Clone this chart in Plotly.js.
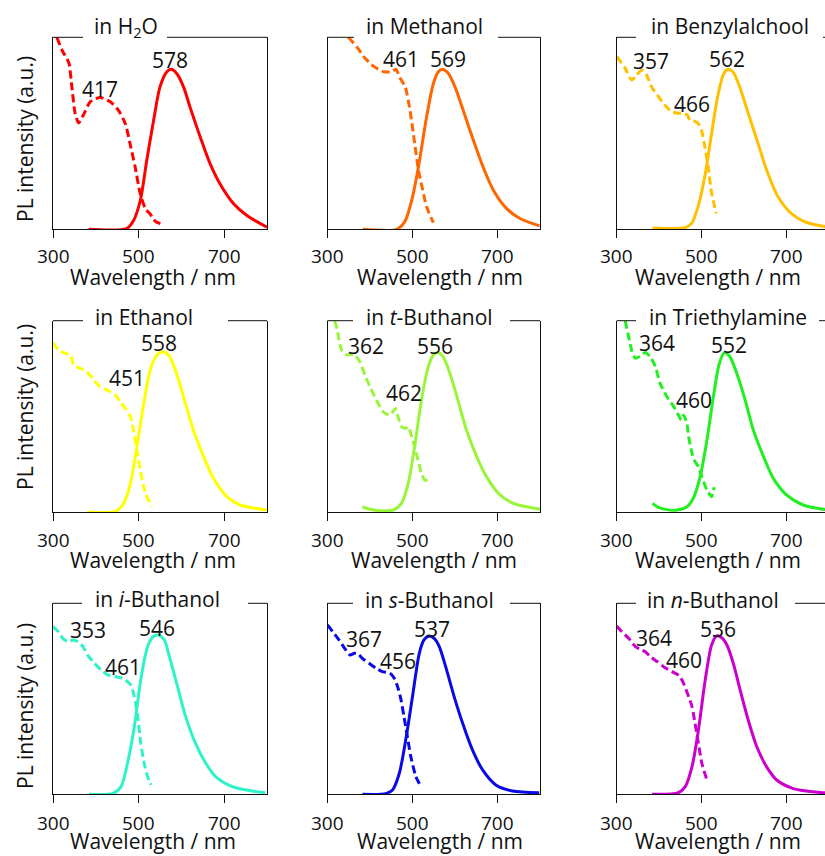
<!DOCTYPE html>
<html>
<head>
<meta charset="utf-8">
<script src="https://cdn.plot.ly/plotly-3.0.1.min.js"></script>
<style>html,body{margin:0;padding:0;overflow:hidden;background:#fff;}#chart{width:835px;height:856px;}</style>
</head>
<body>
<div id="chart"></div>
<script>
// ---------- DATA ----------
const solvents = ["in H<sub>2</sub>O", "in Methanol", "in Benzylalchool",
  "in Ethanol", "in <i>t</i>-Buthanol", "in Triethylamine",
  "in <i>i</i>-Buthanol", "in <i>s</i>-Buthanol", "in <i>n</i>-Buthanol"];
const colors = ["#ff0000", "#ff6600", "#ffc000", "#ffff00", "#99f53a", "#22ee22", "#2ef2c8", "#0a0ae6", "#cc00cc"];

const xTickVals = [300, 500, 700];
const xTickText = ["300", "500", "700"];

// emission (solid) and excitation (dashed) spectra, normalized intensity
const h2oEmX = [383,473,488,504,519,535,550,566,576,589,605,620,644,667,690,722,753,800];
const h2oEmY = [0,0.006,0.054,0.18,0.43,0.68,0.89,0.985,1.0,0.974,0.89,0.765,0.577,0.41,0.284,0.159,0.086,0.013];
const h2oExX = [309,321,337,344,352,360,372,387,410,434,453,469,480,492,504,516,527,539,557];
const h2oExY = [1.2,1.12,1.04,0.89,0.72,0.665,0.72,0.797,0.824,0.797,0.744,0.66,0.535,0.389,0.22,0.128,0.096,0.05,0.029];

const meohEmX = [383,463,482,498,514,533,549,561,570,584,600,619,643,666,690,721,752,799];
const meohEmY = [0,0,0.048,0.18,0.39,0.70,0.91,0.985,1.0,0.975,0.89,0.746,0.558,0.39,0.246,0.131,0.069,0.021];
const meohExX = [349,369,388,408,432,451,461,471,483,494,504,514,524,533,549];
const meohExY = [1.2,1.14,1.07,1.02,0.985,0.985,1.0,0.944,0.89,0.746,0.558,0.37,0.246,0.142,0.042];

const bnohEmX = [384,460,476,491,507,523,538,552,562,573,589,609,632,655,679,710,741,788,810];
const bnohEmY = [0.008,0.01,0.037,0.14,0.33,0.6,0.84,0.975,1.0,0.985,0.89,0.725,0.5375,0.35,0.204,0.1,0.048,0.017,0.01];
const bnohExX = [300,320,335,347,359,370,382,398,413,429,445,456,466,472,480,491,499,507,515,523,534];
const bnohExY = [1.08,1.006,0.933,0.965,0.996,0.965,0.89,0.829,0.777,0.735,0.725,0.725,0.715,0.683,0.679,0.6625,0.62,0.517,0.39,0.225,0.1];

const etohEmX = [381,446,465,481,496,512,527,543,556,570,586,605,628,652,675,706,737,800];
const etohEmY = [0,0.004,0.054,0.18,0.41,0.68,0.89,0.985,1.005,0.985,0.89,0.723,0.514,0.347,0.211,0.096,0.044,0.0125];
const etohExX = [300,313,329,341,348,364,379,395,410,426,446,457,469,481,488,496,504,516,531];
const etohExY = [1.062,1.016,0.995,0.985,0.922,0.901,0.88,0.828,0.786,0.765,0.734,0.692,0.65,0.598,0.514,0.389,0.263,0.117,0.033];

const tbuEmX = [382,400,423,455,474,490,505,521,537,549,559,572,588,607,627,651,674,706,737,800];
const tbuEmY = [0.033,0.017,0.008,0.0125,0.054,0.18,0.41,0.70,0.91,0.985,1.0,0.974,0.87,0.70,0.514,0.347,0.222,0.107,0.054,0.017];
const tbuExX = [317,323,333,345,356,362,376,388,400,415,431,447,460,466,474,484,490,498,505,513,521,529,537];
const tbuExY = [1.2,1.141,1.016,0.985,0.989,0.991,0.943,0.859,0.786,0.702,0.629,0.608,0.650,0.598,0.535,0.525,0.535,0.472,0.41,0.326,0.243,0.2,0.2];

const teaEmX = [384,398,418,441,465,480,496,512,527,541,553,566,582,602,621,645,668,699,738,785,810];
const teaEmY = [0.054,0.029,0.015,0.0125,0.033,0.086,0.22,0.45,0.72,0.93,1.0,0.974,0.87,0.70,0.514,0.347,0.211,0.107,0.044,0.017,0.01];
const teaExX = [320,328,336,344,355,367,379,391,402,418,434,445,452,457,465,469,477,484,492,500,512,523,529];
const teaExY = [1.2,1.1,1.006,0.964,0.978,1.0,0.974,0.911,0.807,0.723,0.661,0.608,0.577,0.608,0.556,0.472,0.368,0.316,0.284,0.222,0.138,0.096,0.155];

const ibuEmX = [384,440,459,474,490,505,521,534,546,560,571,591,610,633,657,680,719,765,796];
const ibuEmY = [0,0.006,0.048,0.195,0.425,0.718,0.928,0.99,1.0,0.97,0.875,0.676,0.488,0.32,0.195,0.111,0.048,0.021,0.01];
const ibuExX = [300,312,323,335,347,358,370,381,397,412,428,447,463,474,482,490,498,505,513,521,529];
const ibuExY = [1.053,1.022,0.98,0.959,0.97,0.959,0.928,0.875,0.823,0.781,0.75,0.739,0.729,0.708,0.687,0.614,0.488,0.32,0.195,0.111,0.059];

const sbuEmX = [382,437,453,469,484,500,516,527,539,551,563,578,598,618,641,665,696,735,798];
const sbuEmY = [0,0.004,0.027,0.132,0.341,0.614,0.886,0.97,0.995,0.98,0.928,0.802,0.614,0.446,0.279,0.153,0.059,0.021,0.01];
const sbuExX = [300,312,327,343,353,363,372,382,398,414,429,447,457,465,473,480,488,496,508,520];
const sbuExY = [1.064,1.022,0.97,0.907,0.875,0.886,0.882,0.854,0.823,0.792,0.771,0.76,0.729,0.676,0.593,0.488,0.362,0.237,0.111,0.048];

const nbuEmX = [383,445,461,477,492,508,523,535,547,559,574,590,609,629,652,676,715,785,810];
const nbuEmY = [0,0.01,0.048,0.174,0.404,0.718,0.938,0.995,0.984,0.938,0.823,0.656,0.467,0.3,0.174,0.09,0.036,0.01,0.008];
const nbuExX = [300,312,328,344,355,367,379,395,410,430,448,457,466,477,484,492,500,512];
const nbuExY = [1.058,1.022,0.98,0.928,0.911,0.896,0.865,0.834,0.802,0.771,0.743,0.697,0.635,0.551,0.446,0.32,0.195,0.09];

// peak labels (wavelength values)
const peakLabels = [
  ["417","578"], ["461","569"], ["357","466","562"],
  ["451","558"], ["362","462","556"], ["364","460","552"],
  ["353","461","546"], ["367","456","537"], ["364","460","536"]
];

// ---------- LAYOUT ----------
const W = 835, H = 856;
const spectra = [
  [h2oEmX,h2oEmY,h2oExX,h2oExY],[meohEmX,meohEmY,meohExX,meohExY],[bnohEmX,bnohEmY,bnohExX,bnohExY],
  [etohEmX,etohEmY,etohExX,etohExY],[tbuEmX,tbuEmY,tbuExX,tbuExY],[teaEmX,teaEmY,teaExX,teaExY],
  [ibuEmX,ibuEmY,ibuExX,ibuExY],[sbuEmX,sbuEmY,sbuExX,sbuExY],[nbuEmX,nbuEmY,nbuExX,nbuExY]
];
// label positions (x in nm, y in normalized units)
const labelPos = [
  [[410,0.88],[574,1.058]],
  [[472,1.0625],[584,1.0625]],
  [[380,1.052],[477,0.783],[558,1.0625]],
  [[473,0.838],[547,1.062]],
  [[390,1.041],[480,0.744],[553,1.041]],
  [[395,1.062],[482,0.702],[565,1.047]],
  [[381,1.032],[463,0.802],[544,1.043]],
  [[386,0.974],[465,0.84],[545,1.037]],
  [[387,0.98],[457,0.844],[537,1.037]]
];
const colPx = [[53,267],[327.5,540],[616.7,829.5]];
const rowPx = [[37.3,229.3],[320.7,512],[603.3,794.3]];
const titlePos = [[125.5,27],[424.5,26],[729.5,26],[143.5,317],[429,317],[728,317],[157,599],[429,600],[713,600]];
const gapPx = [[83,167],[354,498],[636,823],[83,228],[353,510],[636,819],[82,248],[353,510],[636,795]];
const xTitlePos = [[153,277],[440,277],[718,277],[153,560],[434,560],[718,560],[153,841],[440,841],[718,841]];
const tickLabelY = [256, 540, 823];
const yTitleY = [139,407,706];

const FONT = "Open Sans, Noto Sans, sans-serif";
const px2x = p => p / W;
const px2y = p => 1 - p / H;

const traces = [];
const layout = {
  width: W, height: H, margin: {l:0, r:0, t:0, b:0},
  paper_bgcolor: "#fff", plot_bgcolor: "#fff",
  showlegend: false, font: {family: FONT, color: "#111"},
  annotations: [], shapes: []
};

for (let i = 0; i < 9; i++) {
  const c = i % 3, r = Math.floor(i / 3);
  const sfx = i === 0 ? "" : String(i + 1);
  const xa = "x" + sfx, ya = "y" + sfx;
  const [emX, emY, exX, exY] = spectra[i];
  traces.push({x: exX, y: exY, xaxis: xa, yaxis: ya, mode: "lines", type: "scatter",
    line: {color: colors[i], width: 3, dash: "8px,4px", shape: "spline", smoothing: 0.6}, hoverinfo: "skip"});
  traces.push({x: emX, y: emY, xaxis: xa, yaxis: ya, mode: "lines", type: "scatter",
    line: {color: colors[i], width: 3, shape: "spline", smoothing: 0.8}, hoverinfo: "skip"});

  layout["xaxis" + sfx] = {
    domain: [px2x(colPx[c][0]), px2x(colPx[c][1])], anchor: ya,
    range: [300, 800], tickvals: xTickVals, ticktext: xTickText,
    ticks: "outside", ticklen: 8, tickwidth: 1, tickcolor: "#111",
    showticklabels: false,
    showline: true, linecolor: "#111", linewidth: 1, mirror: false,
    showgrid: false, zeroline: false, fixedrange: true
  };
  layout["yaxis" + sfx] = {
    domain: [px2y(rowPx[r][1]), px2y(rowPx[r][0])], anchor: xa,
    range: [0, 1.2], showticklabels: false, ticks: "",
    showline: true, linecolor: "#111", linewidth: 1, mirror: true,
    showgrid: false, zeroline: false, fixedrange: true
  };

  // tick labels placed under each tick
  xTickVals.forEach((v, k) => {
    layout.annotations.push({text: xTickText[k], xref: xa, yref: "paper", x: v, y: px2y(tickLabelY[r]),
      xanchor: "center", yanchor: "middle", showarrow: false,
      font: {family: FONT, size: 19, color: "#111"}});
  });

  // top border broken by the panel title
  const yTop = px2y(rowPx[r][0]);
  layout.shapes.push({type: "line", xref: "paper", yref: "paper", x0: px2x(colPx[c][0]), x1: px2x(gapPx[i][0]), y0: yTop, y1: yTop, line: {color: "#111", width: 1}});
  layout.shapes.push({type: "line", xref: "paper", yref: "paper", x0: px2x(gapPx[i][1]), x1: px2x(colPx[c][1]), y0: yTop, y1: yTop, line: {color: "#111", width: 1}});

  // panel title
  layout.annotations.push({text: solvents[i], xref: "paper", yref: "paper",
    x: px2x(titlePos[i][0]), y: px2y(titlePos[i][1]), xanchor: "center", yanchor: "middle",
    showarrow: false, font: {family: FONT, size: 21, color: "#111"}});
  // x title
  layout.annotations.push({text: "Wavelength / nm", xref: "paper", yref: "paper",
    x: px2x(xTitlePos[i][0]), y: px2y(xTitlePos[i][1]), xanchor: "center", yanchor: "middle",
    showarrow: false, font: {family: FONT, size: 21, color: "#111"}});
  // peak labels
  peakLabels[i].forEach((t, k) => {
    layout.annotations.push({text: t, xref: xa, yref: ya, x: labelPos[i][k][0], y: labelPos[i][k][1],
      xanchor: "center", yanchor: "middle", showarrow: false,
      font: {family: FONT, size: 21, color: "#111"}});
  });
}
// y titles for left column
for (let r = 0; r < 3; r++) {
  layout.annotations.push({text: "PL intensity (a.u.)", xref: "paper", yref: "paper",
    x: px2x(25), y: px2y(yTitleY[r]), xanchor: "center", yanchor: "middle", textangle: -90,
    showarrow: false, font: {family: FONT, size: 21, color: "#111"}});
}

Plotly.newPlot("chart", traces, layout, {staticPlot: true, displayModeBar: false});
</script>
</body>
</html>
